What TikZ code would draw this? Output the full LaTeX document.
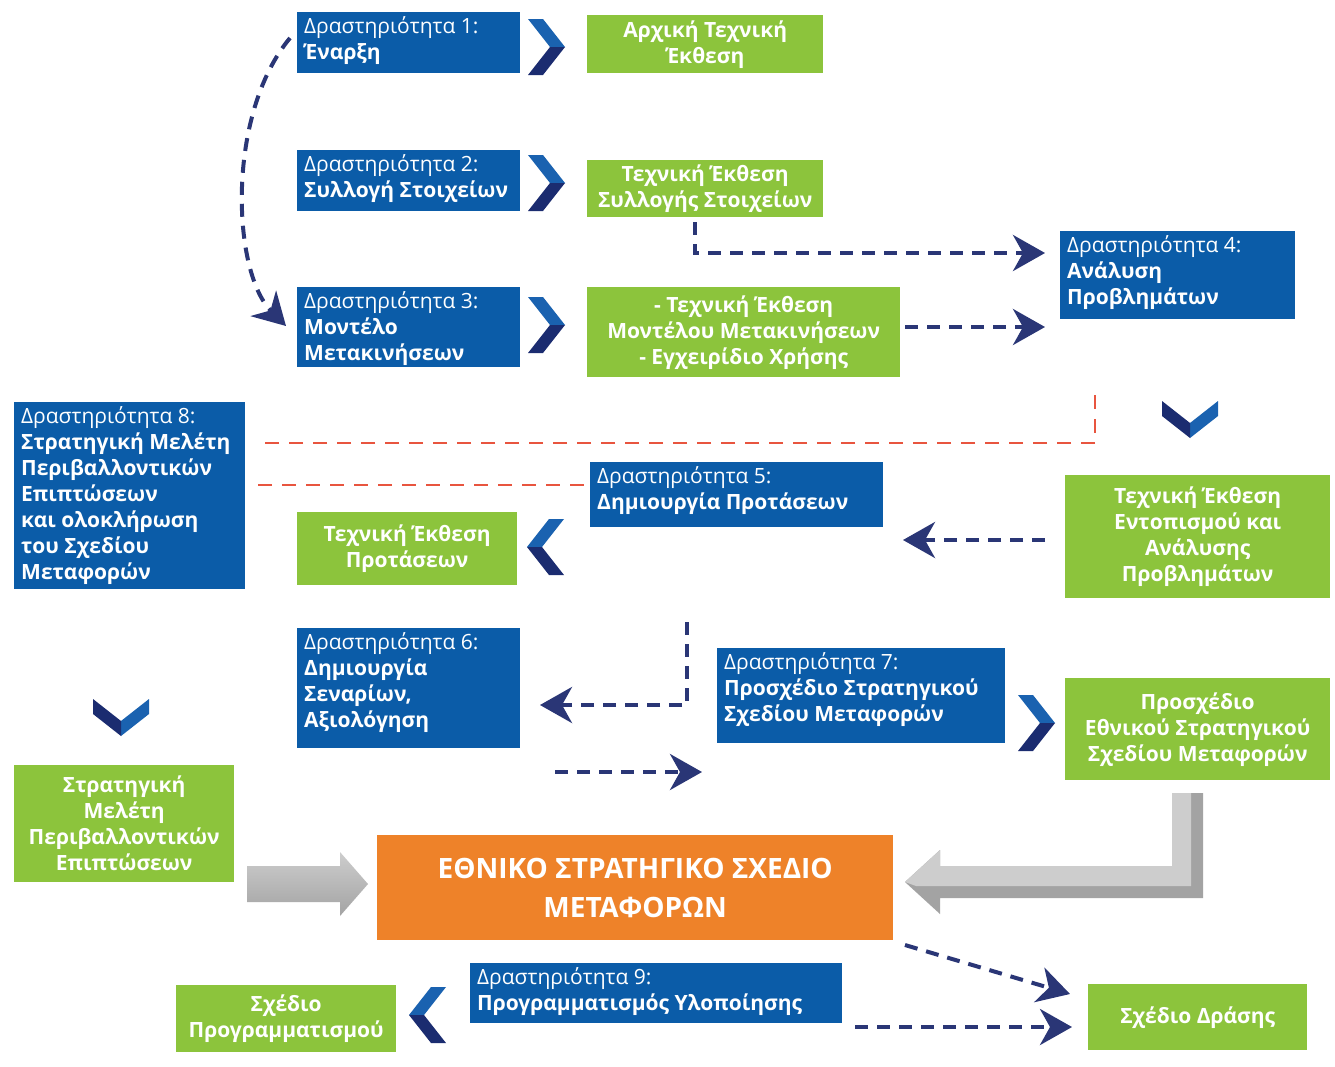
\documentclass[tikz,border=0pt]{standalone}
\usepackage{fontspec}
\setmainfont{Open Sans}
\usetikzlibrary{arrows.meta}
\definecolor{bblue}{HTML}{0B5CA8}
\definecolor{ggreen}{HTML}{8CC43C}
\definecolor{orng}{HTML}{EE8229}
\definecolor{navy}{HTML}{2A3676}
\definecolor{chevlight}{HTML}{1A62B0}
\definecolor{chevdark}{HTML}{1B2C70}
\definecolor{redd}{HTML}{E8553F}
\definecolor{greyL}{HTML}{CDCDCD}
\definecolor{greyD}{HTML}{A3A3A3}
\tikzset{
 bluebox/.style={fill=bblue, draw=none, inner sep=0pt, anchor=north west},
 bluetext/.style={text=white, anchor=north west, align=left, inner sep=0pt, font=\fontsize{21}{26}\selectfont},
 greenbox/.style={fill=ggreen, text=white, align=center, inner sep=2pt, anchor=north west, font=\bfseries\fontsize{21}{26}\selectfont},
 orangebox/.style={fill=orng, text=white, align=center, inner sep=2pt, anchor=north west, font=\bfseries\fontsize{28}{39}\selectfont},
 navydash/.style={draw=navy, line width=4pt, dash pattern=on 13pt off 9pt, -{Stealth[length=32pt,width=36pt,inset=10pt]}},
 reddash/.style={draw=redd, line width=2.5pt, dash pattern=on 14pt off 10pt},
 chev/.pic={
  \fill[chevlight] (-18,-28) -- (-3,-28) -- (19,0) -- (4,0) -- cycle;
  \fill[chevdark] (4,0) -- (19,0) -- (-3,28) -- (-18,28) -- cycle;
 }
}
\newcommand\bluenode[6]{%
 \node[bluebox, minimum width=#4pt, minimum height=#5pt] (#1) at (#2,#3) {};
 \node[bluetext] (#1t) at ([xshift=7pt,yshift=-4pt]#1.north west) {#6};}
\begin{document}
\begin{tikzpicture}[x=1pt,y=-1pt]
\fill[white] (0,0) rectangle (1335,1066);
\useasboundingbox (0,0) rectangle (1335,1066);

% blue activity boxes
\bluenode{b1}{297}{12}{223}{61}{Δραστηριότητα 1:\\\textbf{Έναρξη}}
\bluenode{b2}{297}{150}{223}{61}{Δραστηριότητα 2:\\\textbf{Συλλογή Στοιχείων}}
\bluenode{b3}{297}{287}{223}{80}{Δραστηριότητα 3:\\\textbf{Μοντέλο}\\\textbf{Μετακινήσεων}}
\bluenode{b4}{1060}{231}{235}{88}{Δραστηριότητα 4:\\\textbf{Ανάλυση}\\\textbf{Προβλημάτων}}
\bluenode{b5}{590}{462}{293}{65}{Δραστηριότητα 5:\\\textbf{Δημιουργία Προτάσεων}}
\bluenode{b6}{297}{628}{223}{120}{Δραστηριότητα 6:\\\textbf{Δημιουργία}\\\textbf{Σεναρίων,}\\\textbf{Αξιολόγηση}}
\bluenode{b7}{717}{648}{288}{95}{Δραστηριότητα 7:\\\textbf{Προσχέδιο Στρατηγικού}\\\textbf{Σχεδίου Μεταφορών}}
\bluenode{b8}{14}{402}{231}{187}{Δραστηριότητα 8:\\\textbf{Στρατηγική Μελέτη}\\\textbf{Περιβαλλοντικών}\\\textbf{Επιπτώσεων}\\\textbf{και ολοκλήρωση}\\\textbf{του Σχεδίου}\\\textbf{Μεταφορών}}
\bluenode{b9}{470}{963}{372}{60}{Δραστηριότητα 9:\\\textbf{Προγραμματισμός Υλοποίησης}}

% green deliverables
\node[greenbox, minimum width=236pt, minimum height=58pt] (g1) at (587,15) {Αρχική Τεχνική\\Έκθεση};
\node[greenbox, minimum width=236pt, minimum height=57pt] (g2) at (587,160) {Τεχνική Έκθεση\\Συλλογής Στοιχείων};
\node[greenbox, minimum width=313pt, minimum height=90pt] (g3) at (587,287) {- Τεχνική Έκθεση\\Μοντέλου Μετακινήσεων\\- Εγχειρίδιο Χρήσης};
\node[greenbox, minimum width=265pt, minimum height=123pt] (g4) at (1065,475) {Τεχνική Έκθεση\\Εντοπισμού και\\Ανάλυσης\\Προβλημάτων};
\node[greenbox, minimum width=220pt, minimum height=73pt] (g5) at (297,512) {Τεχνική Έκθεση\\Προτάσεων};
\node[greenbox, minimum width=265pt, minimum height=102pt] (g7) at (1065,678) {Προσχέδιο\\Εθνικού Στρατηγικού\\Σχεδίου Μεταφορών};
\node[greenbox, minimum width=220pt, minimum height=117pt] (g8) at (14,765) {Στρατηγική\\Μελέτη\\Περιβαλλοντικών\\Επιπτώσεων};
\node[greenbox, minimum width=220pt, minimum height=67pt] (g9) at (176,985) {Σχέδιο\\Προγραμματισμού};
\node[greenbox, minimum width=219pt, minimum height=66pt] (g10) at (1088,984) {Σχέδιο Δράσης};

% national plan
\node[orangebox, minimum width=516pt, minimum height=105pt] (nat) at (377,835) {ΕΘΝΙΚΟ ΣΤΡΑΤΗΓΙΚΟ ΣΧΕΔΙΟ\\ΜΕΤΑΦΟΡΩΝ};

% chevrons
\pic at (546,47) {chev};
\pic at (546,183) {chev};
\pic at (546,325) {chev};
\pic at (1036,723) {chev};
\pic[xscale=-1] at (546,547) {chev};
\pic[xscale=-1] at (428,1015) {chev};
\pic[rotate=-90] at (1190,419) {chev};
\pic[rotate=-90] at (121,717) {chev};

% grey block arrows
\shade[top color=greyL, bottom color=greyD] (247,866) -- (340,866) -- (340,852) -- (368,884) -- (340,916) -- (340,902) -- (247,902) -- cycle;
\fill[greyD] (1172,793) -- (1203,793) -- (1203,898) -- (940,898) -- (940,914) -- (905,882) -- (940,850) -- (940,866) -- (1172,866) -- cycle;
\fill[greyL] (1172,793) -- (1191,793) -- (1191,886) -- (916,886) -- (905,882) -- (940,850) -- (940,866) -- (1172,866) -- cycle;

% red dashed links to activity 8
\coordinate (r1s) at (1095,395);
\coordinate (r1e) at (255,443);
\draw[reddash] (r1s) |- (r1e);
\coordinate (r2s) at (258,485);
\draw[reddash] (r2s) -- (r2s -| b5.west);

% navy dashed arrows
\coordinate (c1s) at (290,38);
\coordinate (c1e) at (286,326);
\draw[navydash] (c1s) .. controls (226,115) and (232,272) .. (c1e);
\coordinate (c2s) at (695,222);
\coordinate (c2e) at (1045,253);
\draw[navydash] (c2s) |- (c2e);
\coordinate (c3s) at (905,327);
\coordinate (c3e) at (1045,327);
\draw[navydash] (c3s) -- (c3e);
\coordinate (c4s) at (1045,540);
\coordinate (c4e) at (903,540);
\draw[navydash] (c4s) -- (c4e);
\coordinate (c5s) at (687,622);
\coordinate (c5e) at (540,705);
\draw[navydash] (c5s) |- (c5e);
\coordinate (c6s) at (555,772);
\coordinate (c6e) at (702,772);
\draw[navydash] (c6s) -- (c6e);
\coordinate (c7s) at (905,945);
\coordinate (c7e) at (1070,994);
\draw[navydash] (c7s) -- (c7e);
\coordinate (c8s) at (855,1027);
\coordinate (c8e) at (1072,1027);
\draw[navydash] (c8s) -- (c8e);
\end{tikzpicture}
\end{document}
